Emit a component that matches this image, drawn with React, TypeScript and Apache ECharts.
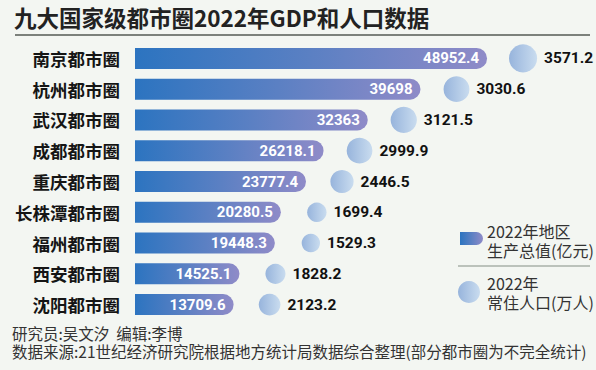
import React, { useEffect, useRef } from 'react';
import * as echarts from 'echarts';

const categories = ['南京都市圈', '杭州都市圈', '武汉都市圈', '成都都市圈', '重庆都市圈', '长株潭都市圈', '福州都市圈', '西安都市圈', '沈阳都市圈'];
const gdp = [48952.4, 39698, 32363, 26218.1, 23777.4, 20280.5, 19448.3, 14525.1, 13709.6];
const population = [3571.2, 3030.6, 3121.5, 2999.9, 2446.5, 1699.4, 1529.3, 1828.2, 2123.2];

const titleText = '九大国家级都市圈2022年GDP和人口数据';
const legendGdp = ['2022年地区', '生产总值(亿元)'];
const legendPop = ['2022年', '常住人口(万人)'];
const credits = '研究员:吴文汐  编辑:李博';
const source = '数据来源:21世纪经济研究院根据地方统计局数据综合整理(部分都市圈为不完全统计)';

const CJK = '"Noto Sans CJK SC", "Noto Sans", sans-serif';
const NUM = 'Roboto, "Liberation Sans", sans-serif';

export default function App() {
  const ref = useRef<HTMLDivElement>(null);
  useEffect(() => {
    if (!ref.current) return;
    const chart = echarts.init(ref.current, undefined, { renderer: 'svg' });
    const barGrad = () =>
      new echarts.graphic.LinearGradient(0, 0, 1, 0, [
        { offset: 0, color: '#2c74c0' },
        { offset: 0.5, color: '#5b80c3' },
        { offset: 1, color: '#8f8bc8' },
      ]);
    const dotGrad = () =>
      new echarts.graphic.LinearGradient(0, 0, 1, 0, [
        { offset: 0, color: '#97b4dc' },
        { offset: 1, color: '#c9dcef' },
      ]);
    const multiText = (x: number, y: number, lines: string[], size: number, lh: number) => ({
      type: 'text',
      x,
      y,
      style: { text: lines.join('\n'), fontSize: size, lineHeight: lh, fontFamily: CJK, fill: '#333', verticalAlign: 'middle' },
    });
    const option: any = {
      animation: false,
      backgroundColor: '#f3f6f2',
      grid: { left: 135, width: 431.5, top: 43, height: 277, containLabel: false },
      xAxis: { type: 'value', min: 0, max: 60000, show: false },
      yAxis: {
        type: 'category',
        data: categories,
        inverse: true,
        axisLine: { show: false },
        axisTick: { show: false },
        splitLine: { show: false },
        axisLabel: { margin: 15, fontSize: 17.5, fontWeight: 'bold', color: '#151515', fontFamily: CJK },
      },
      series: [
        {
          type: 'bar',
          data: gdp,
          barWidth: 21,
          itemStyle: { color: barGrad(), borderRadius: [0, 10.5, 10.5, 0] },
          label: {
            show: true,
            position: 'insideRight',
            distance: 8,
            color: '#ffffff',
            fontSize: 15,
            fontWeight: 'bold',
            fontFamily: NUM,
            formatter: (p: any) => String(p.value),
          },
        },
        {
          type: 'scatter',
          data: gdp.map((g, i) => [g, categories[i], population[i]]),
          symbol: 'circle',
          symbolSize: (v: any) => Math.sqrt(v[2]) * 0.47,
          symbolOffset: [36, 0],
          itemStyle: { color: dotGrad(), opacity: 1 },
          label: {
            show: true,
            position: 'right',
            distance: 7,
            color: '#111111',
            fontSize: 15.5,
            fontWeight: 'bold',
            fontFamily: NUM,
            formatter: (p: any) => String(p.value[2]),
          },
        },
      ],
      graphic: [
        {
          type: 'text',
          left: 14,
          top: 6,
          style: { text: titleText, fontSize: 22.5, fontFamily: CJK, fontWeight: 'bold', fill: '#222' },
        },
        { type: 'line', shape: { x1: 15, y1: 35, x2: 590, y2: 35 }, style: { stroke: '#555a55', lineWidth: 1.5 } },
        {
          type: 'rect',
          shape: { x: 460, y: 232, width: 23, height: 13, r: [0, 6.5, 6.5, 0] },
          style: { fill: barGrad() },
        },
        multiText(487, 240.5, legendGdp, 16, 19),
        { type: 'line', shape: { x1: 458, y1: 266, x2: 590, y2: 266 }, style: { stroke: '#a9b0a8', lineWidth: 1.5 } },
        { type: 'circle', shape: { cx: 469, cy: 292, r: 11 }, style: { fill: dotGrad() } },
        multiText(487, 292.5, legendPop, 16, 19),
        multiText(12, 342, [credits, source], 15.5, 18),
      ],
    };
    chart.setOption(option);
    return () => chart.dispose();
  }, []);
  return <div ref={ref} style={{ position: 'fixed', left: 0, top: 0, width: 596, height: 370 }} />;
}
